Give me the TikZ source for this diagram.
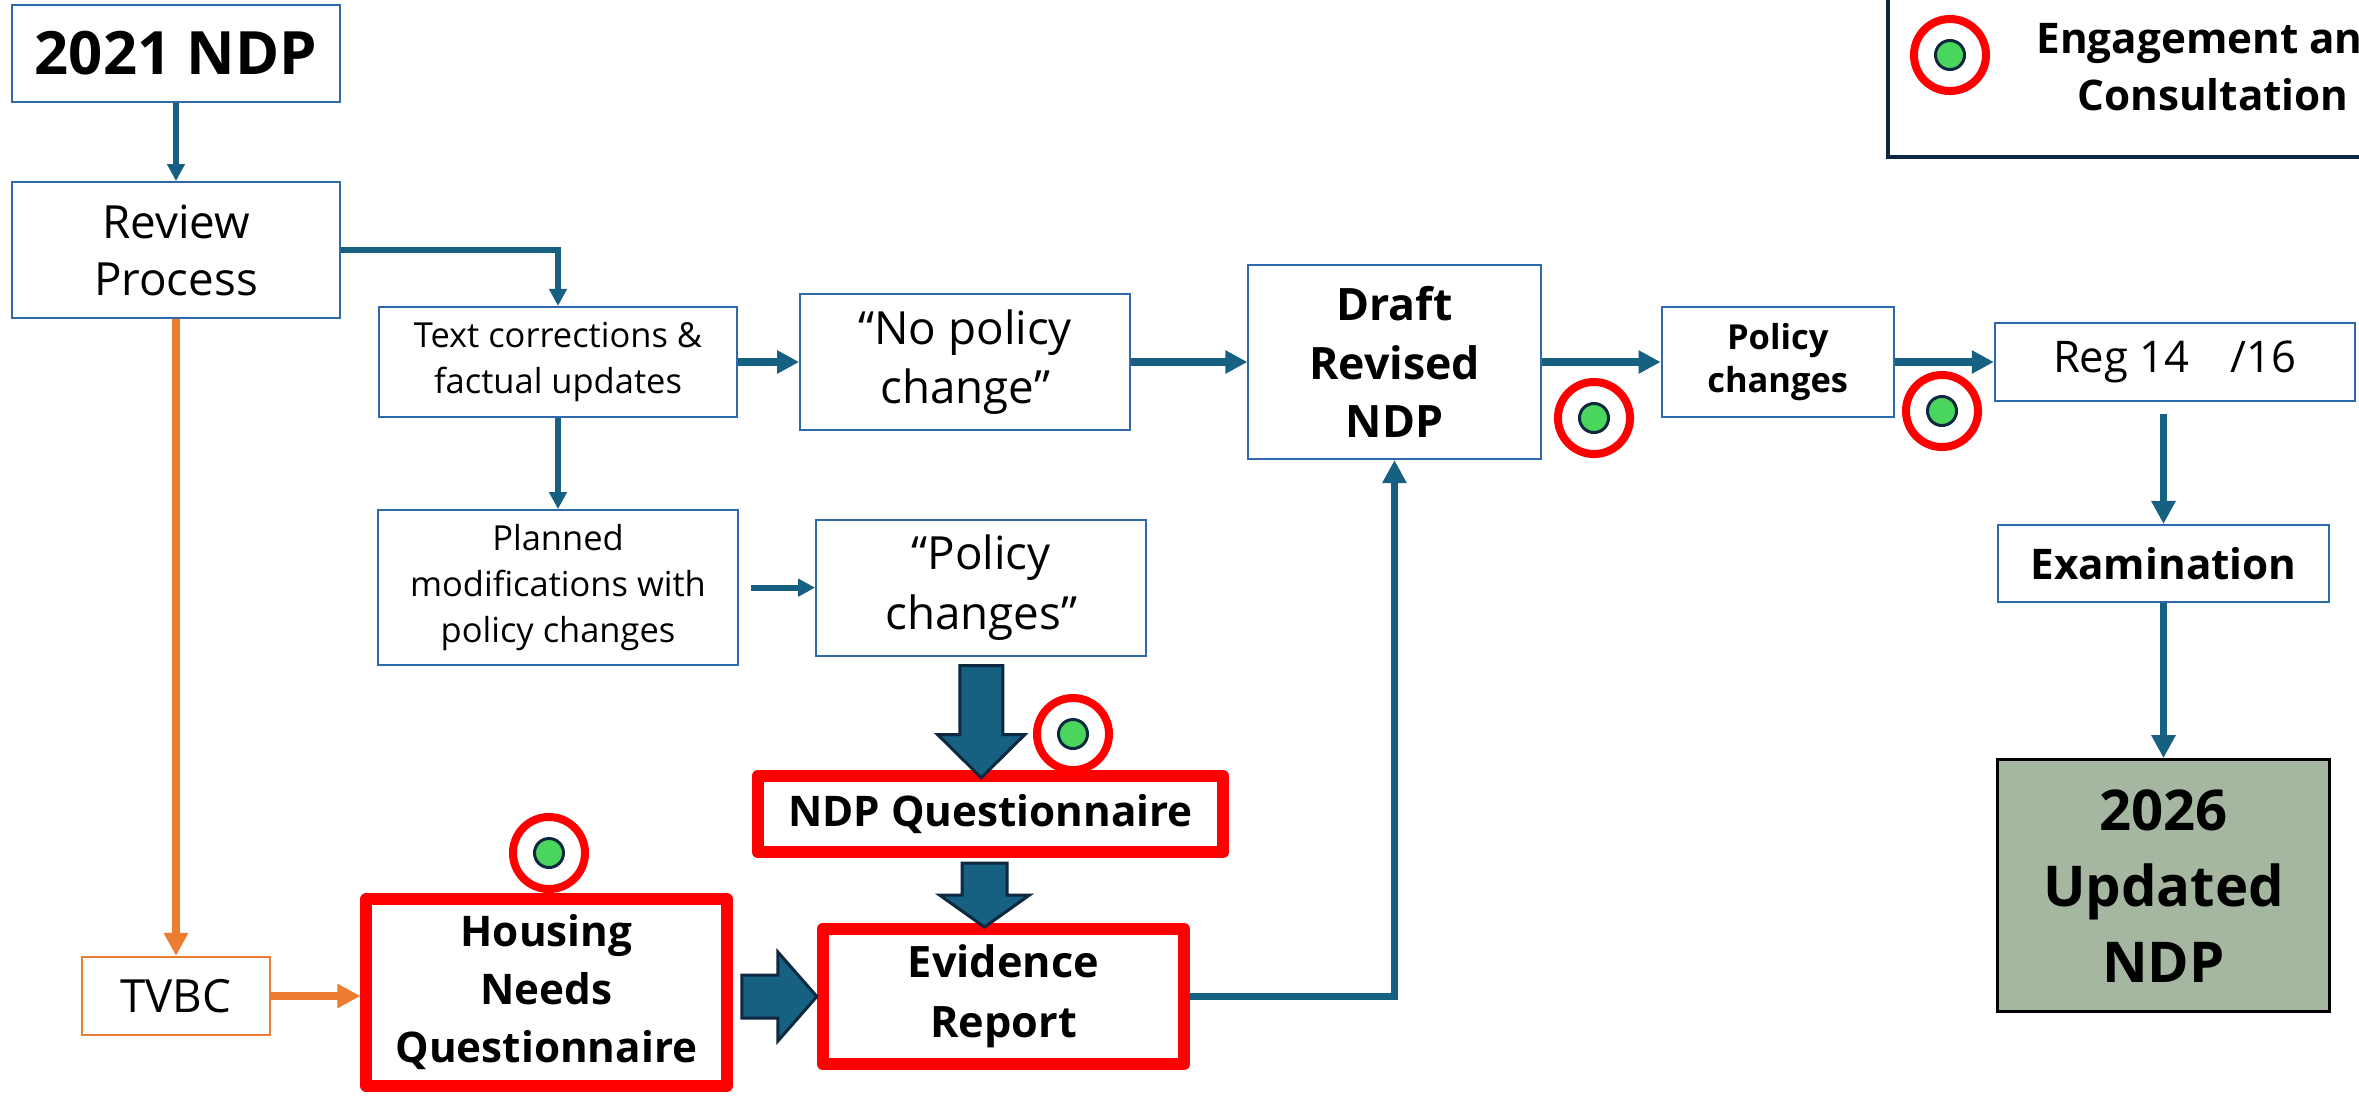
\documentclass[tikz,border=0pt]{standalone}
\usepackage{fontspec}
\setmainfont{Open Sans}
\usepackage{tikz}
\usetikzlibrary{arrows.meta,positioning,calc}
\definecolor{linkblue}{RGB}{22,96,130}
\definecolor{boxblue}{RGB}{47,105,172}
\definecolor{navyline}{RGB}{14,40,65}
\definecolor{markred}{RGB}{255,0,0}
\definecolor{markgreen}{RGB}{74,214,92}
\definecolor{tvbcorange}{RGB}{237,125,49}
\definecolor{sagefill}{RGB}{165,183,160}

\begin{document}
\begin{tikzpicture}[
    x=0.01cm, y=-0.01cm,
    >={Triangle[length=0.17cm,width=0.17cm]},
    flowbox/.style={
        rectangle, draw=boxblue, line width=0.02cm, fill=white,
        align=center, inner sep=0pt
    },
    redbox/.style={
        rectangle, draw=markred, line width=0.12cm, line join=round,
        fill=white, align=center, inner sep=0pt,
        font=\bfseries\fontsize{12}{16.5}\selectfont
    },
    link/.style={->, draw=linkblue, line width=0.06cm},
    mainlink/.style={-{Triangle[length=0.22cm,width=0.22cm]}, draw=linkblue, line width=0.08cm},
    vlink/.style={-{Triangle[length=0.23cm,width=0.23cm]}, draw=linkblue, line width=0.07cm},
    orangelink/.style={-{Triangle[length=0.23cm,width=0.23cm]}, draw=tvbcorange, line width=0.075cm},
    blockarrow/.style={fill=linkblue, draw=navyline, line width=0.03cm, line join=miter},
    ring/.style={circle, draw=markred, line width=0.08cm, minimum size=0.72cm, inner sep=0pt},
    dot/.style={circle, draw=navyline, line width=0.03cm, fill=markgreen, minimum size=0.29cm, inner sep=0pt},
    legendbox/.style={rectangle, draw=navyline, line width=0.04cm, minimum width=5.24cm, minimum height=1.94cm}
]
\useasboundingbox (0,0) rectangle (2359,1096);

% top row: review and main chain
\node[flowbox, minimum width=3.28cm, minimum height=0.97cm,
      font=\bfseries\fontsize{17}{20}\selectfont] (ndp21) at (176,53.5) {2021 NDP};
\node[flowbox, minimum width=3.28cm, minimum height=1.36cm,
      font=\fontsize{13}{16.2}\selectfont, below=0.78cm of ndp21] (review) {Review\\Process};
\node[flowbox, minimum width=3.58cm, minimum height=1.10cm,
      font=\fontsize{9.8}{13}\selectfont] (textcorr) at (558,362) {Text corrections \&\\factual updates};
\node[flowbox, minimum width=3.30cm, minimum height=1.36cm,
      font=\fontsize{13}{16.8}\selectfont, right=0.61cm of textcorr] (nopol) {“No policy\\change”};
\node[flowbox, minimum width=2.92cm, minimum height=1.94cm,
      font=\bfseries\fontsize{12.7}{16.7}\selectfont, right=1.16cm of nopol] (draft) {Draft\\Revised\\NDP};
\node[flowbox, minimum width=2.32cm, minimum height=1.10cm,
      font=\bfseries\fontsize{9.8}{12.4}\selectfont, right=1.19cm of draft] (polchg) {Policy\\changes};
\node[flowbox, minimum width=3.60cm, minimum height=0.77cm,
      font=\fontsize{12.4}{15}\selectfont, right=0.99cm of polchg] (reg) {Reg 14\hspace{0.95em}/16};

% right column
\node[flowbox, minimum width=3.31cm, minimum height=0.77cm,
      font=\bfseries\fontsize{12}{15}\selectfont] (exam) at (2163.5,563.5) {Examination};
\node[flowbox, draw=black, line width=0.03cm, fill=sagefill, minimum width=3.31cm, minimum height=2.52cm,
      font=\bfseries\fontsize{16}{21.6}\selectfont, below=1.55cm of exam] (upd) {2026\\Updated\\NDP};

% middle row
\node[flowbox, minimum width=3.60cm, minimum height=1.55cm,
      font=\fontsize{9.8}{13}\selectfont, below=0.91cm of textcorr] (planned) {Planned\\modifications with\\policy changes};
\node[flowbox, minimum width=3.30cm, minimum height=1.36cm,
      font=\fontsize{13}{16.8}\selectfont, right=0.76cm of planned] (polq) {“Policy\\changes”};

% bottom row: questionnaires and evidence
\node[redbox, minimum width=4.65cm, minimum height=0.76cm] (ndpq) at (990.5,814) {NDP Questionnaire};
\node[redbox, minimum width=3.61cm, minimum height=1.35cm,
      font=\bfseries\fontsize{12.3}{17}\selectfont] (evid) at (1003.5,996.5) {Evidence\\Report};
\node[redbox, minimum width=3.60cm, minimum height=1.87cm] (housing) at (546.5,992.5) {Housing\\Needs\\Questionnaire};
\node[flowbox, draw=tvbcorange, minimum width=1.88cm, minimum height=0.78cm,
      font=\fontsize{13}{16}\selectfont] (tvbc) at (176,996) {TVBC};

% connectors
\draw[link] (ndp21) -- (review);
\draw[link] (review.east) -| (textcorr.north);
\draw[link] (textcorr) -- (planned);
\draw[link] ($(planned.east)+(12,0)$) -- (polq.west);
\draw[mainlink] (textcorr) -- (nopol);
\draw[mainlink] (nopol) -- (draft);
\draw[mainlink] (draft) -- (polchg);
\draw[mainlink] (polchg) -- (reg);
\draw[vlink] ($(exam.north |- reg.south)+(0,12)$) -- (exam.north);
\draw[vlink] (exam.south) -- (exam.south |- upd.north);
\draw[vlink] (evid.east) -| (draft.south);
\draw[orangelink] (review.south) -- (tvbc.north);
\draw[orangelink] (tvbc.east) -- (tvbc.east -| housing.west);

% block arrows
\draw[blockarrow] ($(polq.south)+(-21.5,9)$) -- ++(43,0) -- ++(0,69) -- ++(22,0)
    -- ++(-43.5,43) -- ++(-43.5,-43) -- ++(22,0) -- cycle;
\draw[blockarrow] ($(ndpq.south)+(-28.5,5)$) -- ++(45,0) -- ++(0,32) -- ++(22.5,0)
    -- ++(-45,32) -- ++(-45,-32) -- ++(22.5,0) -- cycle;
\draw[blockarrow] ($(evid.west)+(-75,-21.5)$) -- ++(36,0) -- ++(0,-23) -- ++(39,44.5)
    -- ++(-39,44.5) -- ++(0,-23) -- ++(-36,0) -- cycle;

% engagement markers
\node[ring] (ringdraft) at (1594,418) {};
\node[dot] at (ringdraft) {};
\node[ring] (ringreg) at (1942,411) {};
\node[dot] at (ringreg) {};
\node[ring] (ringndpq) at (1073,734) {};
\node[dot] at (ringndpq) {};
\node[ring] (ringhousing) at (549,853) {};
\node[dot] at (ringhousing) {};

% legend
\node[legendbox] (legend) at (2150,60) {};
\node[ring] (ringlegend) at (1950,55) {};
\node[dot] at (ringlegend) {};
\node[font=\bfseries\fontsize{12}{16.2}\selectfont, align=center] (legendtext) at (2213,66) {Engagement and\\Consultation};

\end{tikzpicture}
\end{document}
